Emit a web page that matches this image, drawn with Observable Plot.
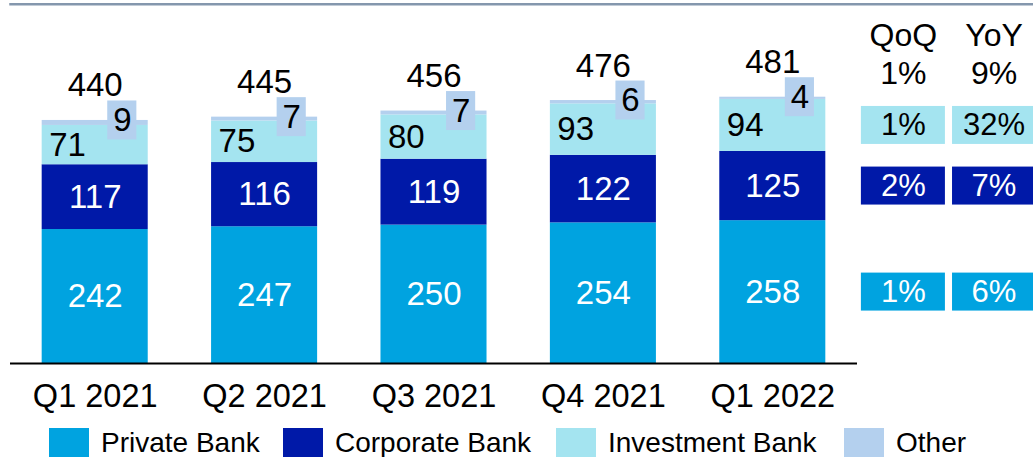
<!DOCTYPE html>
<html><head><meta charset="utf-8">
<script src="https://cdn.jsdelivr.net/npm/d3@7"></script>
<script src="https://cdn.jsdelivr.net/npm/@observablehq/plot@0.6"></script>
<style>
html,body{margin:0;padding:0;background:#fff;overflow:hidden;}
#chart{width:1033px;height:457px;position:relative;font-family:"Liberation Sans",Arial,sans-serif;}
.legend{position:relative;height:37px;}
.item{position:absolute;top:8px;display:flex;align-items:flex-start;font-size:28px;line-height:30px;color:#000;white-space:nowrap;}
.sw{width:40px;height:30px;margin-right:12px;}
</style></head><body><div id="chart"></div>
<script>
const quarters = ["Q1 2021", "Q2 2021", "Q3 2021", "Q4 2021", "Q1 2022"];
const seriesNames = ["Private Bank", "Corporate Bank", "Investment Bank", "Other"];
const privateBank = [242, 247, 250, 254, 258];
const corporateBank = [117, 116, 119, 122, 125];
const investmentBank = [71, 75, 80, 93, 94];
const other = [9, 7, 7, 6, 4];
const totals = [440, 445, 456, 476, 481];
const growthHeaders = ["QoQ", "YoY"];
const totalGrowth = ["1%", "9%"];
const growthSeries = ["Investment Bank", "Corporate Bank", "Private Bank"];
const qoqGrowth = ["1%", "2%", "1%"];
const yoyGrowth = ["32%", "7%", "6%"];
const colors = ["#00a3e0", "#0019a8", "#a4e4f0", "#b4d0ee"];

const FONT = '"Liberation Sans", Arial, sans-serif';
const values = [privateBank, corporateBank, investmentBank, other];
const segs = [];
quarters.forEach((q, i) => {
  let c = 0;
  seriesNames.forEach((s, k) => {
    const v = values[k][i];
    segs.push({i, q, series: s, value: v, y1: c, y2: c + v, mid: c + v / 2});
    c += v;
  });
});
const tops = quarters.map((q, i) => ({i, q, total: totals[i], top: d3.sum(values, v => v[i]), other: other[i]}));

const last = quarters.length - 1;
const colX = [4.771, 5.306];
const colHW = [0.248, 0.245];
const cells = [];
growthSeries.forEach((s, r) => {
  const seg = segs.find(d => d.i === last && d.series === s);
  [qoqGrowth[r], yoyGrowth[r]].forEach((t, c) => {
    cells.push({series: s, x: colX[c], hw: colHW[c], y: seg.mid, text: t, dark: s === "Investment Bank"});
  });
});

const BW = 0.313, OX = 0.16, OW = 0.086, OH = 35.2, CH = 34.3;

const plot = Plot.plot({
  width: 1033, height: 420,
  marginLeft: 10, marginRight: 0, marginTop: 3.7, marginBottom: 57,
  style: {fontFamily: FONT, background: "white", color: "black"},
  x: {type: "linear", domain: [-0.5, 5.539]},
  y: {domain: [0, 649], axis: null},
  color: {domain: seriesNames, range: colors},
  marks: [
    Plot.frame({anchor: "top", stroke: "#8497ad", strokeWidth: 2.5}),
    Plot.rect(segs, {x1: d => d.i - BW, x2: d => d.i + BW, y1: "y1", y2: "y2", fill: "series"}),
    Plot.ruleY([0], {x1: -0.5, x2: 4.5, stroke: "#000", strokeWidth: 2}),
    Plot.axisX({ticks: d3.range(quarters.length), tickFormat: i => quarters[i], tickSize: 0, tickPadding: 20.5, fontSize: 32.5, fill: "black"}),
    Plot.text(segs.filter(d => d.series === "Private Bank" || d.series === "Corporate Bank"),
      {x: "i", y: "mid", text: d => String(d.value), fill: "white", fontSize: 33}),
    Plot.text(segs.filter(d => d.series === "Investment Bank"),
      {x: d => d.i - BW, y: "mid", text: d => String(d.value), fill: "black", fontSize: 33, textAnchor: "start", dx: 7}),
    Plot.rect(tops, {x1: d => d.i + OX - OW, x2: d => d.i + OX + OW, y1: d => d.top - OH, y2: d => d.top + OH, fill: () => "Other"}),
    Plot.text(tops, {x: d => d.i + OX, y: "top", text: d => String(d.other), fill: "black", fontSize: 33}),
    Plot.text(tops, {x: "i", y: "top", text: d => String(d.total), fill: "black", fontSize: 33, lineAnchor: "bottom", dy: -24}),
    Plot.text(growthHeaders, {x: (d, j) => colX[j], text: (d, j) => d + "\n" + totalGrowth[j], frameAnchor: "top", lineAnchor: "top", dy: 14.6, fontSize: 32, lineHeight: 1.2, fill: "black"}),
    Plot.rect(cells, {x1: d => d.x - d.hw, x2: d => d.x + d.hw, y1: d => d.y - CH, y2: d => d.y + CH, fill: "series"}),
    Plot.text(cells.filter(d => d.dark), {x: "x", y: "y", text: "text", fill: "black", fontSize: 31}),
    Plot.text(cells.filter(d => !d.dark), {x: "x", y: "y", text: "text", fill: "white", fontSize: 31})
  ]
});

const root = document.getElementById("chart");
root.appendChild(plot);
const legend = document.createElement("div");
legend.className = "legend";
const legendLeft = [49, 283, 556, 844];
seriesNames.forEach((s, k) => {
  const it = document.createElement("div");
  it.className = "item";
  it.style.left = legendLeft[k] + "px";
  const sw = document.createElement("span");
  sw.className = "sw";
  sw.style.background = colors[k];
  const tx = document.createElement("span");
  tx.textContent = s;
  it.appendChild(sw); it.appendChild(tx);
  legend.appendChild(it);
});
root.appendChild(legend);
</script></body></html>
